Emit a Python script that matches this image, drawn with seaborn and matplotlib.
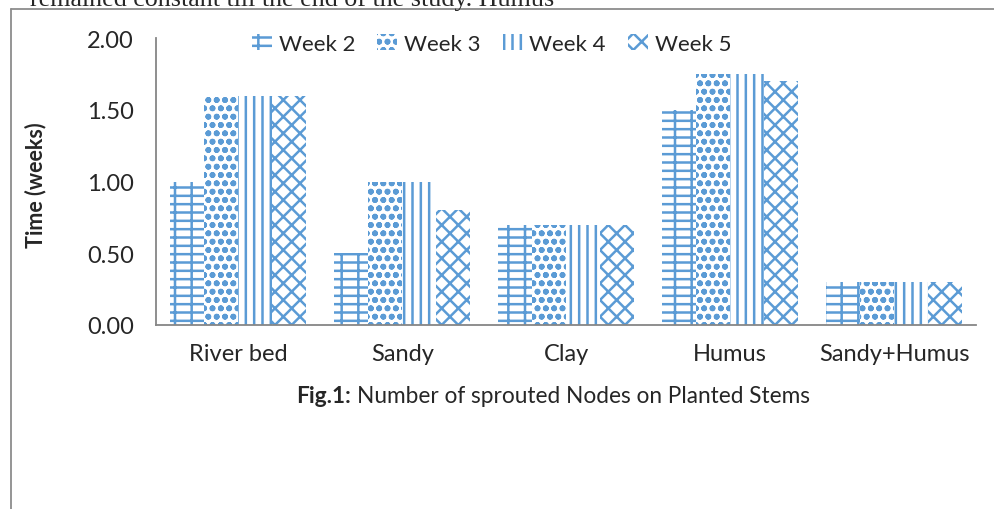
import matplotlib
matplotlib.use("Agg")
import matplotlib.pyplot as plt
import seaborn as sns
import pandas as pd
from matplotlib.patches import Patch
from matplotlib.lines import Line2D

categories = ["River bed", "Sandy", "Clay", "Humus", "Sandy+Humus"]
weeks = ["Week 2", "Week 3", "Week 4", "Week 5"]
week2 = [1.00, 0.50, 0.70, 1.50, 0.30]
week3 = [1.60, 1.00, 0.70, 1.75, 0.30]
week4 = [1.60, 1.00, 0.70, 1.75, 0.30]
week5 = [1.60, 0.80, 0.70, 1.70, 0.30]
yticks = [0.0, 0.5, 1.0, 1.5, 2.0]

rows = []
for w, vals in zip(weeks, [week2, week3, week4, week5]):
    for c, v in zip(categories, vals):
        rows.append({"Soil": c, "Week": w, "Time": v})
df = pd.DataFrame(rows)

sns.set_style("white")
plt.rcParams['font.family'] = ['Lato', 'DejaVu Sans']
plt.rcParams['hatch.linewidth'] = 1.8
plt.rcParams['hatch.color'] = '#5B9BD5'

blue = '#5B9BD5'
fig = plt.figure(figsize=(9.95, 5.10), dpi=100)
ax = fig.add_axes([0.157, 0.361, 0.824, 0.562])

sns.barplot(data=df, x="Soil", y="Time", hue="Week", order=categories,
            hue_order=weeks, width=0.83, ax=ax, legend=False,
            palette=['white'] * 4, edgecolor='none', linewidth=0)

hatches = ['--|', 'oo', '||', 'xx']
for cont, h in zip(ax.containers, hatches):
    for bar in cont:
        bar.set_hatch(h)
        bar.set_edgecolor(blue)
        bar.set_linewidth(0)
        bar.set_facecolor('white')

ax.set_ylim(0, 2.0)
ax.set_yticks(yticks)
ax.set_yticklabels([f"{t:.2f}" for t in yticks], fontsize=17)
ax.set_xlim(-0.5, 4.5)
ax.tick_params(axis='x', labelsize=17, length=0, pad=13)
ax.tick_params(axis='y', length=0, pad=16)
ax.set_xlabel("")
ax.set_ylabel("Time (weeks)", fontsize=15.5, fontweight='bold')
ax.yaxis.set_label_coords(-0.134, 0.49)
for s in ['top', 'right']:
    ax.spines[s].set_visible(False)
for s in ['left', 'bottom']:
    ax.spines[s].set_color('#868686')
    ax.spines[s].set_linewidth(1.3)

handles = [Patch(facecolor='white', edgecolor=blue, hatch=h, linewidth=0) for h in hatches]
fig.legend(handles, weeks, loc='center', bbox_to_anchor=(0.494, 0.912), ncol=4,
           frameon=False, fontsize=16, handlelength=0.9, handleheight=0.7,
           handletextpad=0.3, columnspacing=1.0)

# caption: bold prefix + regular text
cap_y = 1 - 403 / 510
t1 = fig.text(0.298, cap_y, "Fig.1:", ha='left', va='baseline', fontsize=16.3, fontweight='bold')
fig.canvas.draw()
bb = t1.get_window_extent()
x2 = (bb.x1 + 6) / fig.bbox.width
fig.text(x2, cap_y, "Number of sprouted Nodes on Planted Stems", ha='left', va='baseline', fontsize=16.3)

# surrounding frame and clipped page text
fig.add_artist(Line2D([0.011, 1.0], [0.981, 0.981], transform=fig.transFigure, color='#8c8c8c', lw=1.3))
fig.add_artist(Line2D([0.011, 0.011], [0.0, 0.981], transform=fig.transFigure, color='#8c8c8c', lw=1.3))
fig.text(0.03, 0.988, "remained constant till the end of the study. Humus", ha='left', va='baseline',
         fontsize=18.7, family=['Liberation Serif', 'DejaVu Serif'])

fig.savefig("out.png", dpi=100)
